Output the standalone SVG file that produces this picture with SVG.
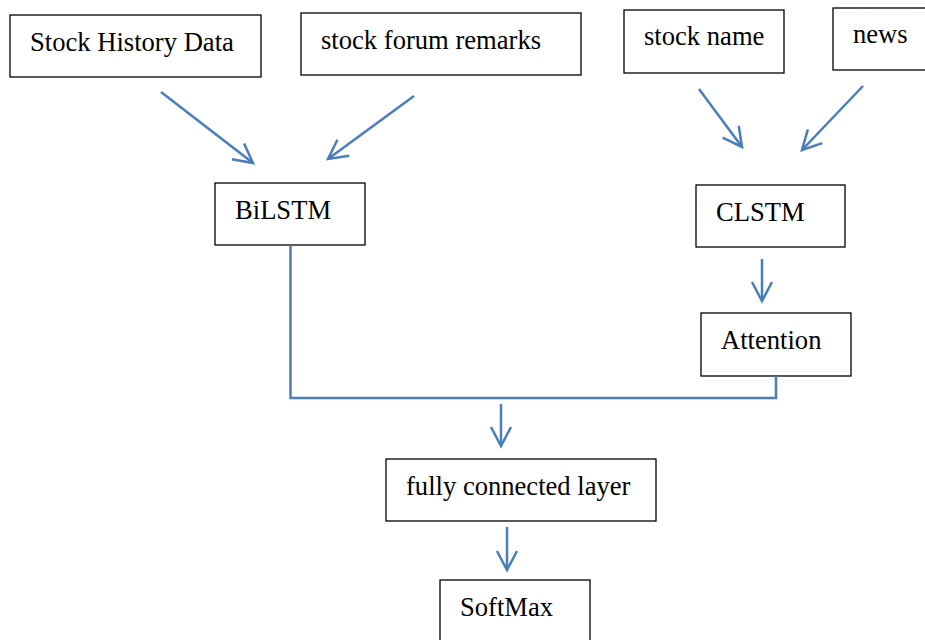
<svg xmlns="http://www.w3.org/2000/svg" width="925" height="640" viewBox="0 0 925 640">
<defs>
<style>
.box{fill:#fff;stroke:#000;stroke-width:1.3}
.lbl{font-family:"Liberation Serif","Times New Roman",serif;font-size:26.6px;fill:#000}
.conn{fill:none;stroke:#4a7ebb;stroke-width:2.5}
</style>
<marker id="ah" viewBox="0 0 22 22" refX="20" refY="11" markerWidth="22" markerHeight="22" markerUnits="userSpaceOnUse" orient="auto" overflow="visible">
<path d="M1,1 L20,11 L1,21" fill="none" stroke="#4a7ebb" stroke-width="2.5"/>
</marker>
</defs>
<rect width="925" height="640" fill="#fff"/>
<g id="stock-history"><rect class="box" x="10" y="15" width="251" height="62"/><text class="lbl" x="30" y="51">Stock History Data</text></g>
<g id="forum"><rect class="box" x="301" y="13" width="280" height="62"/><text class="lbl" x="321" y="49">stock forum remarks</text></g>
<g id="stock-name"><rect class="box" x="624" y="10" width="160" height="63"/><text class="lbl" x="644" y="45">stock name</text></g>
<g id="news"><rect class="box" x="833" y="8" width="110" height="62"/><text class="lbl" x="853" y="43">news</text></g>
<g id="bilstm"><rect class="box" x="215" y="183" width="150" height="62"/><text class="lbl" x="235" y="219">BiLSTM</text></g>
<g id="clstm"><rect class="box" x="696" y="185" width="149" height="62"/><text class="lbl" x="716" y="221">CLSTM</text></g>
<g id="attention"><rect class="box" x="701" y="313" width="150" height="63"/><text class="lbl" x="721" y="349">Attention</text></g>
<g id="fc"><rect class="box" x="386" y="459" width="270" height="62"/><text class="lbl" x="406" y="495">fully connected layer</text></g>
<g id="softmax"><rect class="box" x="440" y="580" width="150" height="70"/><text class="lbl" x="460" y="616">SoftMax</text></g>
<g id="connectors">
<line class="conn" x1="161" y1="92" x2="253" y2="163" marker-end="url(#ah)"/>
<line class="conn" x1="414" y1="96" x2="328" y2="159" marker-end="url(#ah)"/>
<line class="conn" x1="699" y1="89" x2="742" y2="147" marker-end="url(#ah)"/>
<line class="conn" x1="863" y1="86" x2="802" y2="150" marker-end="url(#ah)"/>
<line class="conn" x1="762" y1="259" x2="762" y2="301" marker-end="url(#ah)"/>
<polyline class="conn" points="290.5,245 290.5,398 776,398 776,376"/>
<line class="conn" x1="501" y1="404" x2="501" y2="446" marker-end="url(#ah)"/>
<line class="conn" x1="507" y1="527" x2="507" y2="570" marker-end="url(#ah)"/>
</g>
</svg>
